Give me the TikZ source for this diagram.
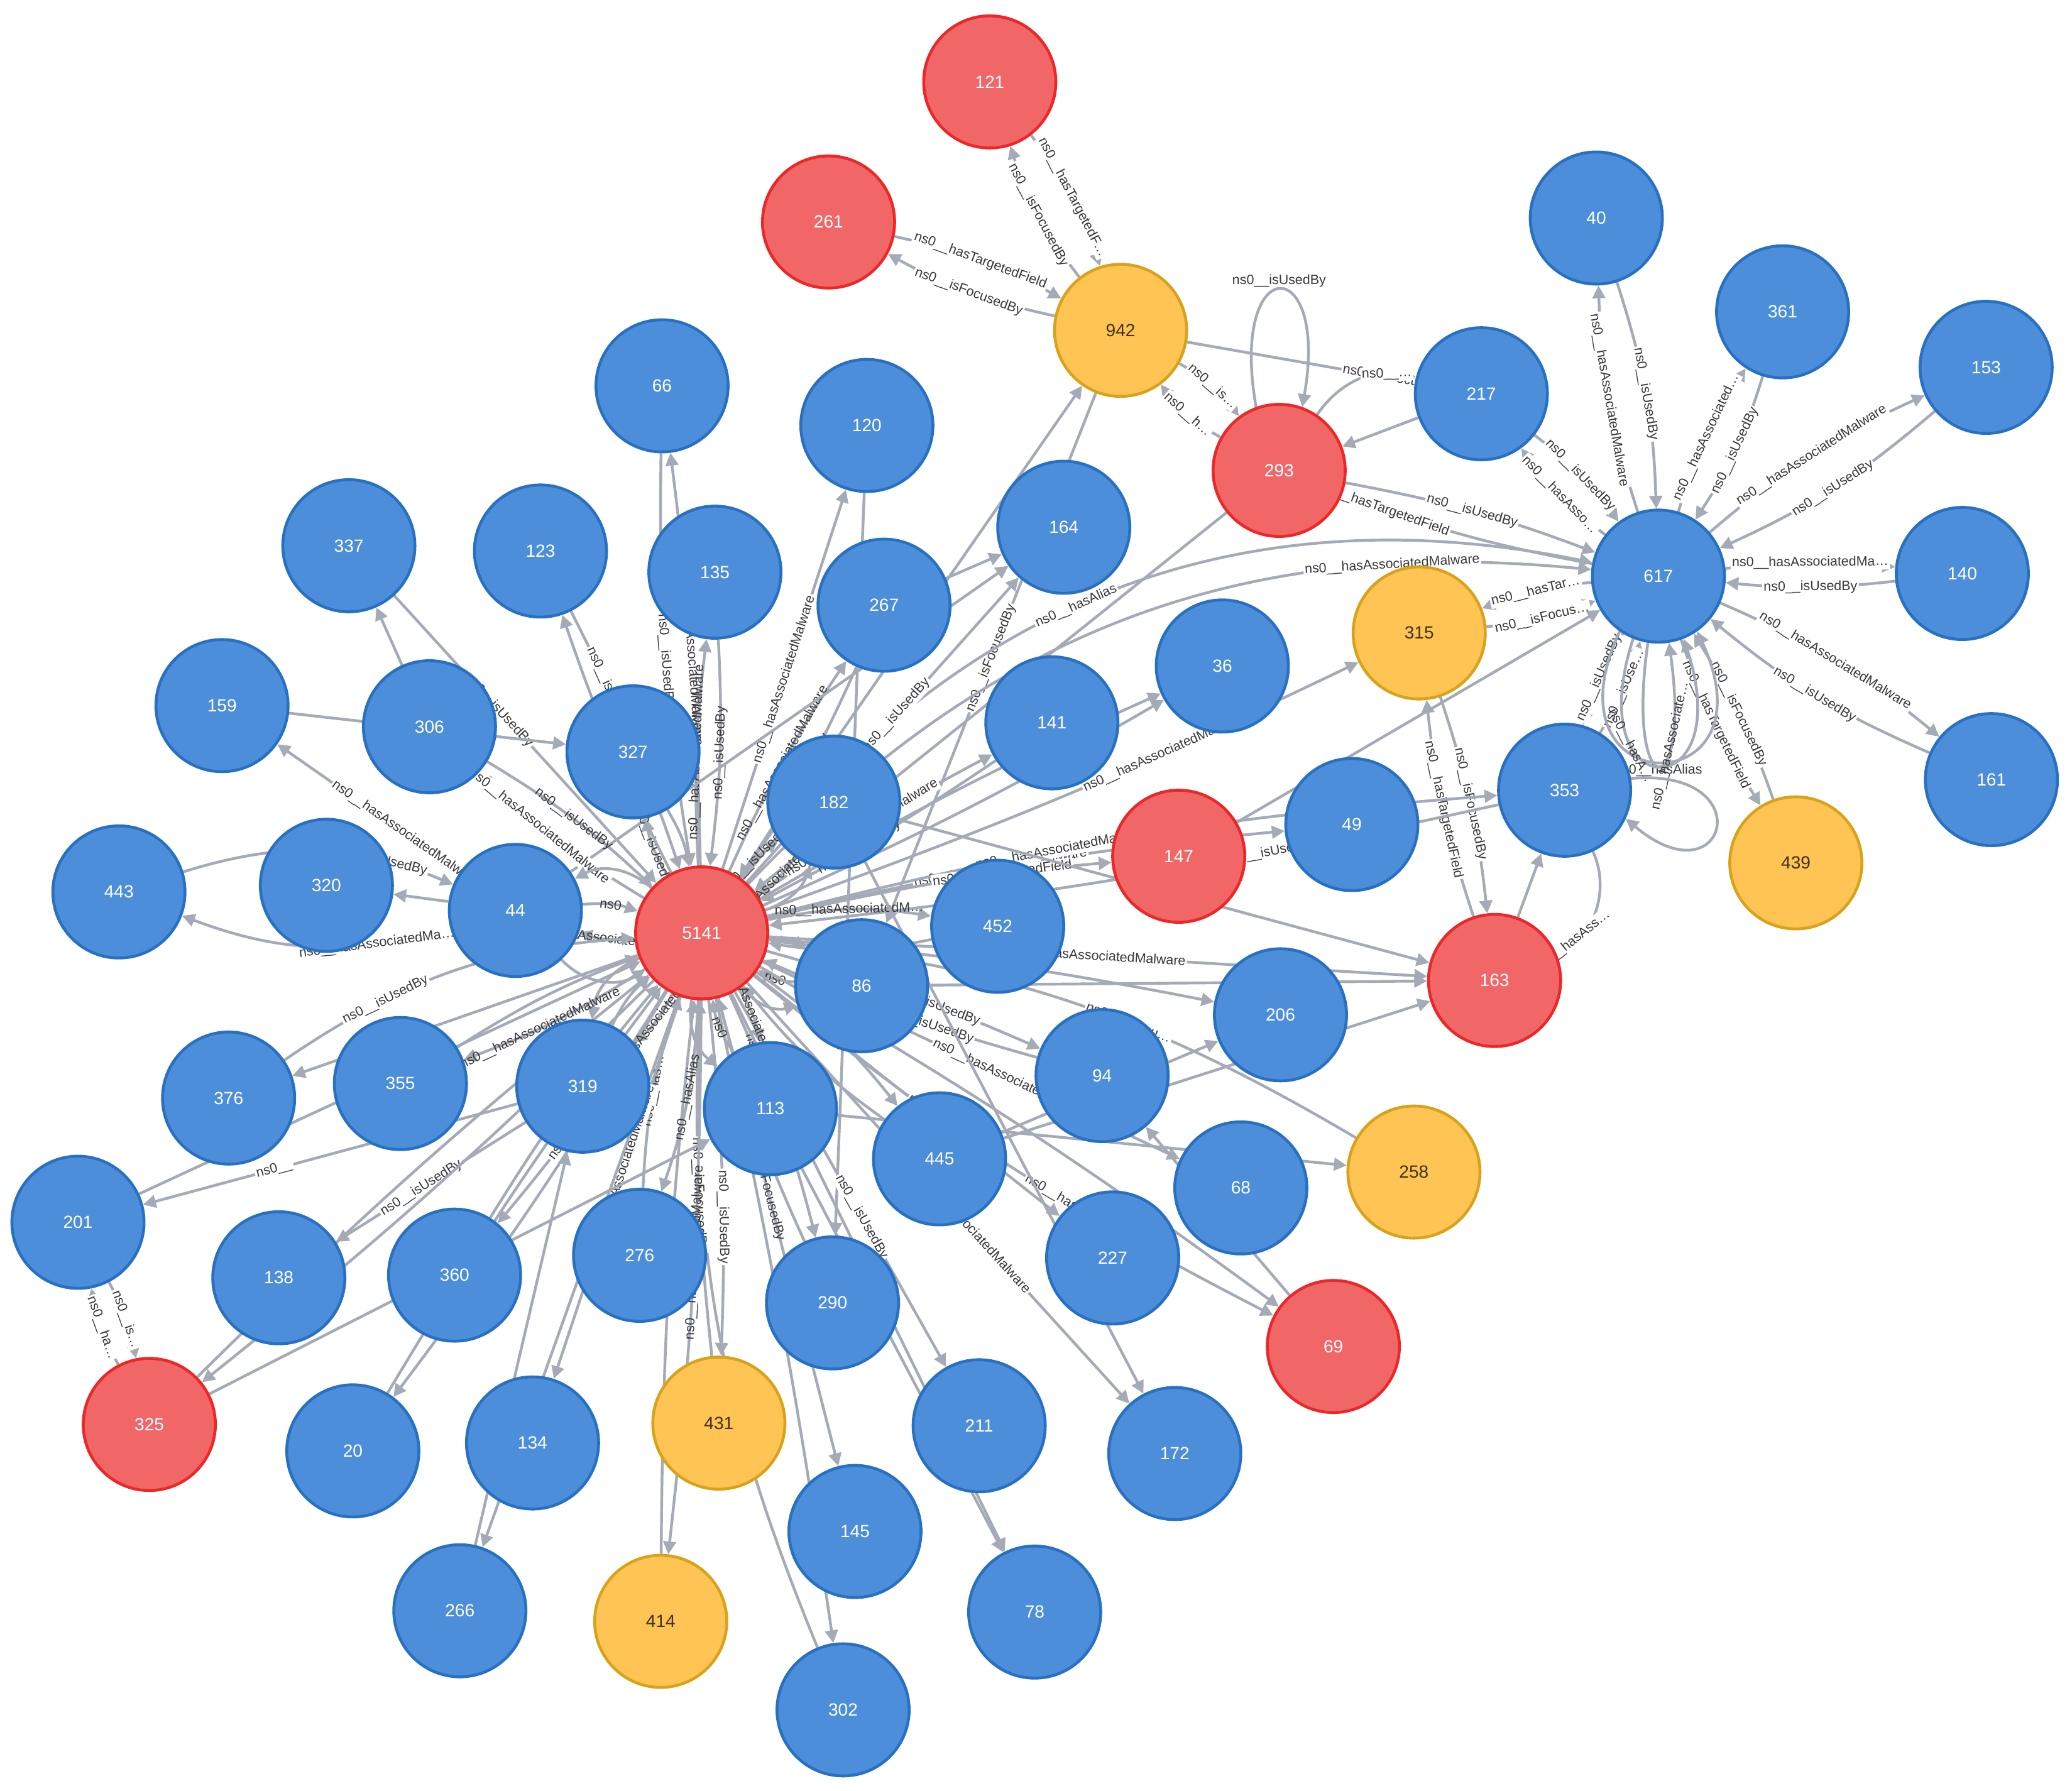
\documentclass[tikz,border=0pt]{standalone}
\usepackage{fontspec}
\setmainfont{Liberation Sans}
\usepackage{tikz}
\usetikzlibrary{arrows.meta, backgrounds}
\usepackage{xcolor}
\definecolor{discblue}{HTML}{4C8EDA}
\definecolor{discblueborder}{HTML}{2870C2}
\definecolor{discred}{HTML}{F16667}
\definecolor{discredborder}{HTML}{EB2728}
\definecolor{discyellow}{HTML}{FFC454}
\definecolor{discyellowborder}{HTML}{D9A21B}
\definecolor{discyellowtext}{HTML}{3E3418}
\definecolor{relgray}{HTML}{A5ABB6}
\newcommand{\nsz}[1]{ns0\_\_#1}
\tikzset{%
	every disc/.style={
		circle,
		draw,
		line width=1.25pt,
		minimum size=2cm,
		inner sep=0pt,
		font=\fontsize{7.6}{9}\selectfont
	},
	blue disc/.style={every disc, fill=discblue, draw=discblueborder, text=white},
	red disc/.style={every disc, fill=discred, draw=discredborder, text=white},
	yellow disc/.style={every disc, fill=discyellow, draw=discyellowborder, text=discyellowtext},
	relation/.style={
		draw=relgray,
		line width=1.2pt,
		-{Triangle[length=5.5pt,width=5.5pt]}
	},
	relation label/.style={
		sloped,
		fill=white,
		inner sep=0.6pt,
		text=black!78,
		font=\fontsize{5.8}{6.5}\selectfont
	},
	crowded label/.style={relation label, fill=none},
}

\begin{document}
\begin{tikzpicture}[x=0.02cm, y=-0.02cm]
			\useasboundingbox (0,0) rectangle (1568,1355);
			
			% Draw the red discs
			\node[red disc] (n121) at (749,62) {121};
			\node[red disc] (n261) at (627,168) {261};
			\node[red disc] (n293) at (968,356) {293};
			\node[red disc] (n5141) at (531,706) {5141};
			\node[red disc] (n147) at (892,648) {147};
			\node[red disc] (n163) at (1131,742) {163};
			\node[red disc] (n69) at (1009,1019) {69};
			\node[red disc] (n325) at (113,1078) {325};
			
			% Draw the yellow discs
			\node[yellow disc] (n942) at (848,250) {942};
			\node[yellow disc] (n315) at (1074,479) {315};
			\node[yellow disc] (n439) at (1359,653) {439};
			\node[yellow disc] (n258) at (1070,887) {258};
			\node[yellow disc] (n431) at (544,1077) {431};
			\node[yellow disc] (n414) at (500,1227) {414};
			
			% Draw the blue discs
			\node[blue disc] (n40) at (1208,165) {40};
			\node[blue disc] (n361) at (1349,236) {361};
			\node[blue disc] (n153) at (1503,278) {153};
			\node[blue disc] (n617) at (1255,436) {617};
			\node[blue disc] (n140) at (1485,434) {140};
			\node[blue disc] (n161) at (1507,590) {161};
			\node[blue disc] (n217) at (1121,298) {217};
			\node[blue disc] (n353) at (1184,598) {353};
			\node[blue disc] (n66) at (501,292) {66};
			\node[blue disc] (n120) at (656,322) {120};
			\node[blue disc] (n164) at (805,399) {164};
			\node[blue disc] (n135) at (541,433) {135};
			\node[blue disc] (n267) at (669,458) {267};
			\node[blue disc] (n337) at (264,413) {337};
			\node[blue disc] (n123) at (409,417) {123};
			\node[blue disc] (n36) at (925,504) {36};
			\node[blue disc] (n141) at (796,547) {141};
			\node[blue disc] (n159) at (168,534) {159};
			\node[blue disc] (n306) at (325,550) {306};
			\node[blue disc] (n327) at (479,569) {327};
			\node[blue disc] (n182) at (631,607) {182};
			\node[blue disc] (n49) at (1023,624) {49};
			\node[blue disc] (n443) at (90,675) {443};
			\node[blue disc] (n320) at (247,670) {320};
			\node[blue disc] (n44) at (390,689) {44};
			\node[blue disc] (n452) at (755,701) {452};
			\node[blue disc] (n86) at (652,746) {86};
			\node[blue disc] (n206) at (969,768) {206};
			\node[blue disc] (n376) at (173,831) {376};
			\node[blue disc] (n355) at (303,820) {355};
			\node[blue disc] (n319) at (441,822) {319};
			\node[blue disc] (n113) at (583,839) {113};
			\node[blue disc] (n94) at (834,814) {94};
			\node[blue disc] (n445) at (711,877) {445};
			\node[blue disc] (n68) at (939,899) {68};
			\node[blue disc] (n201) at (59,925) {201};
			\node[blue disc] (n138) at (211,967) {138};
			\node[blue disc] (n360) at (344,965) {360};
			\node[blue disc] (n276) at (484,950) {276};
			\node[blue disc] (n290) at (630,986) {290};
			\node[blue disc] (n227) at (842,952) {227};
			\node[blue disc] (n20) at (267,1098) {20};
			\node[blue disc] (n134) at (403,1092) {134};
			\node[blue disc] (n211) at (741,1079) {211};
			\node[blue disc] (n172) at (889,1100) {172};
			\node[blue disc] (n145) at (647,1159) {145};
			\node[blue disc] (n78) at (783,1220) {78};
			\node[blue disc] (n266) at (348,1219) {266};
			\node[blue disc] (n302) at (638,1294) {302};
			
			\begin{scope}[on background layer]
			% Draw the relations round 942
			\draw[relation] (n942) to[bend left=10] node[relation label]{\nsz{isFocusedBy}} (n121);
			\draw[relation] (n121) to[bend left=10] node[relation label]{\nsz{hasTargetedF…}} (n942);
			\draw[relation] (n261) to[bend left=8] node[relation label]{\nsz{hasTargetedField}} (n942);
			\draw[relation] (n942) to[bend left=8] node[relation label]{\nsz{isFocusedBy}} (n261);
			\draw[relation] (n293) to[bend left=12] node[relation label]{\nsz{h…}} (n942);
			\draw[relation] (n942) to[bend left=12] node[relation label]{\nsz{is…}} (n293);
			\draw[relation] (n942) -- node[relation label, pos=0.93]{\nsz{isFocusedBy}} (n217);
			\draw[relation] (n942) -- node[relation label]{\nsz{isFocusedBy}} (n86);
			
			% Draw the relations round 293
			\draw[relation] (n293.110) .. controls +(100:2.4cm) and +(80:2.4cm) .. (n293.70)
				node[crowded label, pos=0.5, above]{\nsz{isUsedBy}};
			\draw[relation] (n293) to[bend left=35] node[relation label, pos=0.75]{\nsz{…}} (n217);
			\draw[relation] (n217) -- (n293);
			
			% Draw the relations round 617
			\draw[relation] (n617) to[bend left=8] node[relation label]{\nsz{hasAssociatedMalware}} (n40);
			\draw[relation] (n40) to[bend left=8] node[relation label]{\nsz{isUsedBy}} (n617);
			\draw[relation] (n617) to[bend left=8] node[relation label]{\nsz{hasAssociated…}} (n361);
			\draw[relation] (n361) to[bend left=8] node[relation label]{\nsz{isUsedBy}} (n617);
			\draw[relation] (n617) to[bend left=8] node[relation label]{\nsz{hasAssociatedMalware}} (n153);
			\draw[relation] (n153) to[bend left=8] node[relation label]{\nsz{isUsedBy}} (n617);
			\draw[relation] (n617) to[bend left=6] node[relation label]{\nsz{hasAssociatedMa…}} (n140);
			\draw[relation] (n140) to[bend left=6] node[relation label]{\nsz{isUsedBy}} (n617);
			\draw[relation] (n617) to[bend left=8] node[relation label]{\nsz{hasAssociatedMalware}} (n161);
			\draw[relation] (n161) to[bend left=8] node[relation label]{\nsz{isUsedBy}} (n617);
			\draw[relation] (n217) to[bend left=8] node[relation label]{\nsz{isUsedBy}} (n617);
			\draw[relation] (n617) to[bend left=8] node[relation label]{\nsz{hasAsso…}} (n217);
			\draw[relation] (n293) to[bend left=5] node[relation label]{\nsz{isUsedBy}} (n617);
			\draw[relation] (n617) to[bend left=5] node[relation label, pos=0.85]{\nsz{hasTargetedField}} (n293);
			\draw[relation] (n315) to[bend right=8] node[relation label]{\nsz{isFocus…}} (n617);
			\draw[relation] (n617) to[bend right=8] node[relation label]{\nsz{hasTar…}} (n315);
			\draw[relation] (n617) to[bend right=8] node[relation label]{\nsz{isUsedBy}} (n353);
			\draw[relation] (n353) to[bend right=8] node[relation label]{\nsz{isUse…}} (n617);
			\draw[relation] (n439) to[bend right=6] node[relation label]{\nsz{isFocusedBy}} (n617);
			\draw[relation] (n617) to[bend right=6] node[relation label]{\nsz{hasTargetedField}} (n439);
			\draw[relation] (n147) -- (n617);
			\draw[relation] (n617.235) .. controls +(245:2.9cm) and +(295:2.9cm) .. (n617.305)
				node[crowded label, pos=0.5, below]{\nsz{hasAlias}};
			\draw[relation] (n617.248) .. controls +(252:2.7cm) and +(288:2.7cm) .. (n617.292)
				node[crowded label, pos=0.3]{\nsz{hasA…}};
			\draw[relation] (n617.261) .. controls +(262:2.5cm) and +(278:2.5cm) .. (n617.279)
				node[crowded label, pos=0.7]{\nsz{hasAssociate…}};
			
			% Draw the relations round 353 and 163
			\draw[relation] (n353.10) .. controls +(5:2cm) and +(-40:2cm) .. (n353.-25);
			\draw[relation] (n163) -- (n353);
			\draw[relation] (n353) to[bend left=45] node[relation label, pos=0.85]{\nsz{hasAss…}} (n163);
			\draw[relation] (n315) to[bend left=6] node[relation label]{\nsz{isFocusedBy}} (n163);
			\draw[relation] (n163) to[bend left=6] node[relation label]{\nsz{hasTargetedField}} (n315);
			
			% Draw the relations of 5141, upper half
			\draw[relation] (n5141) to[bend left=32] node[relation label, pos=0.45]{\nsz{hasAlias}} (n617);
			\draw[relation] (n5141) to[bend left=26] node[relation label, pos=0.8]{\nsz{hasAssociatedMalware}} (n617);
			\draw[relation] (n5141) to[bend right=3] node[relation label, pos=0.68]{\nsz{hasAssociatedMalware}} (n315);
			\draw[relation] (n293) -- (n5141);
			\draw[relation] (n5141) -- (n942);
			\draw[relation] (n66) to[bend right=5] node[relation label]{\nsz{isUsedBy}} (n5141);
			\draw[relation] (n5141) to[bend right=3] node[relation label]{\nsz{hasAssociatedMalware}} (n66);
			\draw[relation] (n5141) -- node[relation label]{\nsz{hasAssociatedMalware}} (n120);
			\draw[relation] (n120) -- (n290);
			\draw[relation] (n5141) to[bend left=5] node[crowded label]{\nsz{hasAssociatedMalware}} (n135);
			\draw[relation] (n135) to[bend left=5] node[crowded label]{\nsz{isUsedBy}} (n5141);
			\draw[relation] (n5141) to[bend left=5] node[crowded label]{\nsz{hasAssociatedMalware}} (n267);
			\draw[relation] (n267) to[bend left=5] node[crowded label]{\nsz{isUsedBy}} (n5141);
			\draw[relation] (n267) -- (n164);
			\draw[relation] (n44) -- (n164);
			\draw[relation] (n5141) -- node[relation label, pos=0.55]{\nsz{isUsedBy}} (n164);
			\draw[relation] (n5141) to[bend left=3] node[relation label, pos=0.45]{\nsz{hasAssociatedMalware}} (n141);
			\draw[relation] (n141) to[bend left=3] node[crowded label, pos=0.6]{\nsz{isUsedBy}} (n5141);
			\draw[relation] (n5141) to[bend left=3] (n36);
			\draw[relation] (n5141) to[bend right=3] (n36);
			\draw[relation] (n5141) to[bend left=4] node[relation label, pos=0.45]{\nsz{hasAssociatedMalware}} (n49);
			\draw[relation] (n5141) to[bend left=5] node[relation label, pos=0.4]{\nsz{hasAssociatedMalware}} (n353);
			\draw[relation] (n353) to[bend left=3] node[relation label, pos=0.3]{\nsz{isUsedBy}} (n5141);
			\draw[relation] (n5141) to[bend left=4] node[relation label, pos=0.7]{\nsz{hasTargetedField}} (n147);
			\draw[relation] (n5141) to[bend left=10] node[crowded label]{\nsz{isUsedBy}} (n182);
			\draw[relation] (n182) to[bend left=10] node[crowded label]{\nsz{hasAssociatedMalware}} (n5141);
			\draw[relation] (n5141) to[bend right=25] (n182);
			\draw[relation] (n5141) to[bend left=10] node[crowded label]{\nsz{isUsedBy}} (n327);
			\draw[relation] (n327) to[bend left=10] (n5141);
			\draw[relation] (n123) to[bend left=4] node[relation label, pos=0.3]{\nsz{isUsedBy}} (n5141);
			\draw[relation] (n5141) to[bend left=4] node[crowded label, pos=0.6]{ns0} (n123);
			\draw[relation] (n337) -- node[relation label, pos=0.4]{\nsz{isUsedBy}} (n5141);
			\draw[relation] (n306) -- (n337);
			\draw[relation] (n5141) to[bend left=6] node[relation label, pos=0.62]{\nsz{hasAssociatedMalware}} (n306);
			\draw[relation] (n306) to[bend left=6] node[crowded label, pos=0.5]{\nsz{isUsedBy}} (n5141);
			\draw[relation] (n159) -- (n327);
			\draw[relation] (n44) -- node[relation label, pos=0.3]{\nsz{hasAssociatedMalware}} (n159);
			\draw[relation] (n443) to[bend left=20] node[relation label, pos=0.74]{\nsz{isUsedBy}} (n44);
			\draw[relation] (n44) to[bend left=18] node[relation label, pos=0.26]{\nsz{hasAssociatedMa…}} (n443);
			\draw[relation] (n44) -- (n320);
			\draw[relation] (n5141) to[bend left=12] node[crowded label]{\nsz{hasAssociatedMalware}} (n44);
			\draw[relation] (n44) to[bend left=12] node[crowded label]{ns0} (n5141);
			\draw[relation] (n5141) to[bend right=35] (n44);
			\draw[relation] (n44) to[bend right=40] (n5141);
			
			% Draw the relations of 5141, lower half
			\draw[relation] (n5141) -- node[relation label]{\nsz{hasAssociatedMalware}} (n163);
			\draw[relation] (n5141) to[bend left=10] node[crowded label]{\nsz{hasAssociatedM…}} (n452);
			\draw[relation] (n452) to[bend left=10] (n5141);
			\draw[relation] (n5141) to[bend left=15] (n86);
			\draw[relation] (n86) to[bend left=15] node[crowded label]{ns0} (n5141);
			\draw[relation] (n5141) to[bend right=35] (n86);
			\draw[relation] (n5141) to[bend left=3] (n206);
			\draw[relation] (n86) -- (n163);
			\draw[relation] (n182) -- (n163);
			\draw[relation] (n5141) to[bend left=4] node[relation label, pos=0.62]{\nsz{isUsedBy}} (n94);
			\draw[relation] (n94) to[bend left=4] node[relation label, pos=0.38]{\nsz{isUsedBy}} (n5141);
			\draw[relation] (n445) -- (n206);
			\draw[relation] (n445) -- (n163);
			\draw[relation] (n258) to[bend right=12] node[relation label, pos=0.4]{\nsz{isFocu…}} (n5141);
			\draw[relation] (n113) -- (n258);
			\draw[relation] (n5141) -- node[relation label, pos=0.6]{\nsz{hasAssociatedMalware}} (n68);
			\draw[relation] (n5141) to[bend left=3] (n69);
			\draw[relation] (n5141) to[bend right=6] node[relation label, pos=0.7]{\nsz{hasAssociatedMalware}} (n69);
			\draw[relation] (n69) -- (n94);
			\draw[relation] (n5141) -- node[relation label, pos=0.62]{\nsz{hasAlias}} (n227);
			\draw[relation] (n182) -- (n172);
			\draw[relation] (n5141) to[bend left=8] node[crowded label]{ns0} (n445);
			\draw[relation] (n445) to[bend left=8] (n5141);
			\draw[relation] (n5141) -- node[relation label, pos=0.58]{\nsz{hasAssociatedMalware}} (n172);
			\draw[relation] (n5141) -- node[relation label, pos=0.6]{\nsz{isUsedBy}} (n211);
			\draw[relation] (n5141) to[bend left=5] node[crowded label, pos=0.4]{\nsz{hasAssociat…}} (n290);
			\draw[relation] (n290) to[bend left=5] node[crowded label, pos=0.6]{\nsz{isUsedBy}} (n5141);
			\draw[relation] (n5141) -- (n78);
			\draw[relation] (n113) -- (n78);
			\draw[relation] (n5141) -- node[crowded label, pos=0.4]{\nsz{isFocusedBy}} (n145);
			\draw[relation] (n5141) to[bend left=2] (n302);
			\draw[relation] (n302) to[bend left=12] (n5141);
			\draw[relation] (n5141) to[bend left=4] node[relation label, pos=0.62]{\nsz{isUsedBy}} (n431);
			\draw[relation] (n431) to[bend left=4] node[relation label, pos=0.45]{\nsz{isFocusedBy}} (n5141);
			\draw[relation] (n5141) to[bend left=3] node[crowded label, pos=0.45]{\nsz{hasAssociatedMalware}} (n414);
			\draw[relation] (n414) to[bend left=3] (n5141);
			\draw[relation] (n5141) to[bend left=8] node[crowded label]{\nsz{hasAlias}} (n276);
			\draw[relation] (n276) to[bend left=8] node[crowded label]{\nsz{has…}} (n5141);
			\draw[relation] (n5141) -- node[relation label, pos=0.45]{\nsz{hasAssociatedMalware}} (n134);
			\draw[relation] (n5141) -- (n266);
			\draw[relation] (n266) -- (n319);
			\draw[relation] (n5141) to[bend left=4] node[relation label, pos=0.55]{\nsz{isUsedBy}} (n360);
			\draw[relation] (n360) to[bend left=4] (n5141);
			\draw[relation] (n5141) to[bend left=3] (n20);
			\draw[relation] (n20) to[bend left=3] (n5141);
			\draw[relation] (n5141) to[bend left=12] node[crowded label]{\nsz{hasAssociatedMalware}} (n319);
			\draw[relation] (n319) to[bend left=12] (n5141);
			\draw[relation] (n5141) to[bend right=30] (n319);
			\draw[relation] (n5141) to[bend left=12] node[crowded label]{\nsz{hasAssociatedMalware}} (n113);
			\draw[relation] (n113) to[bend left=12] node[crowded label]{ns0} (n5141);
			\draw[relation] (n5141) to[bend right=30] (n113);
			\draw[relation] (n319) -- node[relation label, pos=0.55]{\nsz{isUsedBy}} (n138);
			\draw[relation] (n319) -- node[relation label, pos=0.65]{ns0\_\_} (n201);
			\draw[relation] (n5141) to[bend left=3] (n325);
			\draw[relation] (n325) to[bend left=3] (n5141);
			\draw[relation] (n325) -- (n113);
			\draw[relation] (n201) to[bend left=8] node[relation label]{\nsz{is…}} (n325);
			\draw[relation] (n325) to[bend left=8] node[relation label]{\nsz{ha…}} (n201);
			\draw[relation] (n5141) to[bend left=6] node[crowded label, pos=0.6]{\nsz{hasAssociatedMalware}} (n355);
			\draw[relation] (n355) to[bend left=6] (n5141);
			\draw[relation] (n5141) -- (n376);
			\draw[relation] (n376) to[bend left=15] node[relation label, pos=0.3]{\nsz{isUsedBy}} (n5141);
			\draw[relation] (n201) -- (n5141);
			\end{scope}
			
		\end{tikzpicture}
\end{document}
